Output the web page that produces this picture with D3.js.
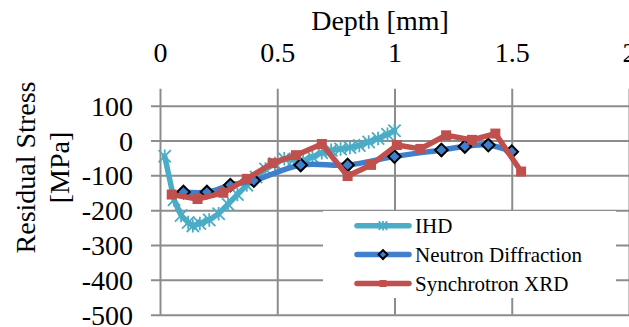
<!DOCTYPE html>
<html>
<head>
<meta charset="utf-8">
<script src="https://cdn.jsdelivr.net/npm/d3@7"></script>
<style>
  body { margin: 0; background: #fff; }
  svg { display: block; }
</style>
</head>
<body>
<div id="viz"></div>
<script>
const seriesNames = ['IHD', 'Neutron Diffraction', 'Synchrotron XRD'];

const ihdDepth = [0.02, 0.06, 0.09, 0.12, 0.14, 0.17, 0.21, 0.25, 0.29, 0.33, 0.37, 0.41, 0.45, 0.49, 0.53, 0.57, 0.61, 0.65, 0.69, 0.73, 0.77, 0.81, 0.85, 0.89, 0.93, 0.97, 1.00];
const ihdStress = [-45, -170, -215, -235, -245, -238, -228, -210, -183, -155, -128, -105, -82, -66, -52, -55, -58, -47, -35, -28, -24, -20, -14, -4, 6, 18, 28];

const ndDepth = [0.1, 0.2, 0.3, 0.4, 0.6, 0.8, 1.0, 1.2, 1.3, 1.4, 1.5];
const ndStress = [-148, -148, -128, -115, -70, -70, -46, -27, -17, -13, -32];

const sxDepth = [0.05, 0.16, 0.27, 0.37, 0.48, 0.58, 0.69, 0.80, 0.90, 1.01, 1.11, 1.22, 1.33, 1.43, 1.54];
const sxStress = [-155, -168, -150, -110, -65, -42, -10, -102, -70, -13, -24, 15, 2, 20, -89];

const xTicks = [0, 0.5, 1, 1.5, 2];
const yTicks = [100, 0, -100, -200, -300, -400, -500];

const width = 629;
const height = 327;
const fontFamily = '"Liberation Serif", "Times New Roman", serif';
const gridColor = '#8c8c8c';
const colors = ['#4bacc6', '#3f7fcc', '#c0504d'];

const svg = d3.select('#viz')
              .append('svg')
              .attr('width', width)
              .attr('height', height)
              .attr('font-family', fontFamily);

const xScale = d3.scaleLinear().domain([0, 2]).range([160, 629]);
const yScale = d3.scaleLinear().domain([-500, 100]).range([314.7, 105.7]);
const plotH = yScale(-500) - yScale(100);
const plotW = xScale(2) - xScale(0);

// y axis + horizontal gridlines
const yAxis = d3.axisLeft(yScale).tickValues(yTicks).tickSize(9).tickPadding(18).tickFormat(d => String(d));
const gy = svg.append('g')
   .attr('transform', 'translate(' + xScale(0) + ',0)')
   .call(yAxis);
gy.attr('font-family', fontFamily).attr('font-size', 28);
gy.select('.domain').remove();
gy.selectAll('.tick line').attr('x1', -9).attr('x2', plotW).attr('stroke', gridColor).attr('stroke-width', 2);
gy.selectAll('.tick text').attr('fill', '#000').attr('dy', '0.34em')
  .attr('font-family', fontFamily).attr('font-size', 28);

// x axis on top + vertical gridlines
const xAxis = d3.axisTop(xScale).tickValues(xTicks).tickSize(17).tickPadding(27).tickFormat(d => String(d));
const gx = svg.append('g')
   .attr('transform', 'translate(0,' + yScale(100) + ')')
   .call(xAxis);
gx.attr('font-family', fontFamily).attr('font-size', 28);
gx.select('.domain').remove();
gx.selectAll('.tick line').attr('y1', -17).attr('y2', plotH).attr('stroke', gridColor).attr('stroke-width', 2);
gx.selectAll('.tick text').attr('fill', '#000')
  .attr('font-family', fontFamily).attr('font-size', 28);

svg.append('text')
   .attr('x', 380)
   .attr('y', 30)
   .attr('text-anchor', 'middle')
   .attr('font-size', 28)
   .text('Depth [mm]');

const yTitle = svg.append('text')
   .attr('transform', 'translate(35,167.5) rotate(-90)')
   .attr('text-anchor', 'middle')
   .attr('font-size', 28);
yTitle.append('tspan').attr('x', 0).attr('y', 0).text('Residual Stress');
yTitle.append('tspan').attr('x', 0).attr('y', 34).text('[MPa]');

// marker shapes
const starShape = {
    draw(context, size) {
        const r = Math.sqrt(size) / 2;
        context.moveTo(-r, -r); context.lineTo(r, r);
        context.moveTo(-r, r); context.lineTo(r, -r);
        context.moveTo(0, -r * 1.1); context.lineTo(0, r * 1.1);
    }
};

const series = [
    { name: seriesNames[0], depth: ihdDepth, stress: ihdStress, curve: d3.curveLinear },
    { name: seriesNames[1], depth: ndDepth, stress: ndStress, curve: d3.curveCatmullRom.alpha(0.5) },
    { name: seriesNames[2], depth: sxDepth, stress: sxStress, curve: d3.curveLinear }
];

function drawMarker(g, i, x, y, scale) {
    if (i === 0) {
        g.append('path')
         .attr('d', d3.symbol().type(starShape).size(150 * scale * scale)())
         .attr('transform', 'translate(' + x + ',' + y + ')')
         .attr('fill', 'none')
         .attr('stroke', colors[0])
         .attr('stroke-width', 1.8);
    } else if (i === 1) {
        g.append('path')
         .attr('d', d3.symbol().type(d3.symbolSquare).size(80 * scale * scale)())
         .attr('transform', 'translate(' + x + ',' + y + ') rotate(45)')
         .attr('fill', colors[1])
         .attr('stroke', '#000')
         .attr('stroke-width', 2);
    } else {
        g.append('path')
         .attr('d', d3.symbol().type(d3.symbolSquare).size(100 * scale * scale)())
         .attr('transform', 'translate(' + x + ',' + y + ')')
         .attr('fill', colors[2]);
    }
}

series.forEach((s, i) => {
    const pts = s.depth.map((d, j) => [d, s.stress[j]]);
    const line = d3.line().x(d => xScale(d[0])).y(d => yScale(d[1])).curve(s.curve);
    const g = svg.append('g');
    g.append('path')
     .attr('d', line(pts))
     .attr('fill', 'none')
     .attr('stroke', colors[i])
     .attr('stroke-width', 5.5)
     .attr('stroke-linejoin', 'round')
     .attr('stroke-linecap', 'round');
    pts.forEach(p => drawMarker(g, i, xScale(p[0]), yScale(p[1]), 1));
});

// legend
const legend = svg.append('g');
legend.append('rect')
      .attr('x', 323).attr('y', 211)
      .attr('width', 293).attr('height', 87)
      .attr('fill', '#fff');
const legendY = d3.scalePoint().domain(seriesNames).range([225.7, 283.5]);
seriesNames.forEach((name, i) => {
    const yy = legendY(name);
    legend.append('line')
          .attr('x1', 357).attr('x2', 409)
          .attr('y1', yy).attr('y2', yy)
          .attr('stroke', colors[i])
          .attr('stroke-width', 5.5)
          .attr('stroke-linecap', 'round');
    drawMarker(legend, i, 383, yy, 0.7);
    legend.append('text')
          .attr('x', 415)
          .attr('y', yy + 7)
          .attr('font-size', 21)
          .text(name);
});
</script>
</body>
</html>
